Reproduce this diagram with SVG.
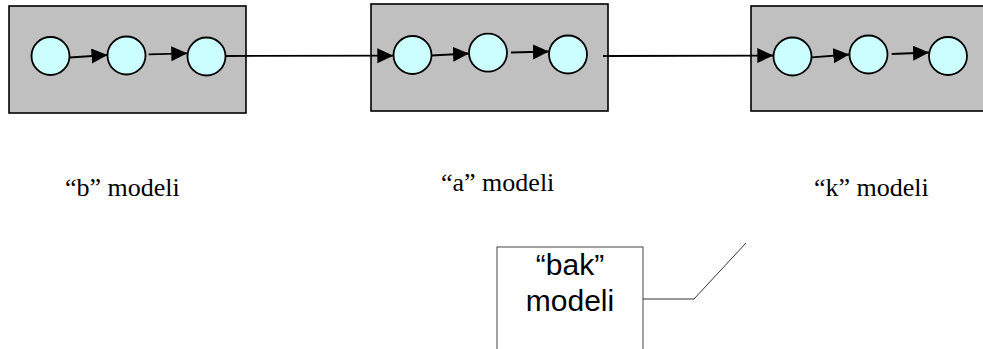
<svg xmlns="http://www.w3.org/2000/svg" width="983" height="349" viewBox="0 0 983 349">
  <style>
    .model { fill: #c0c0c0; stroke: #000; stroke-width: 1.6; }
    .state { fill: #ccffff; stroke: #000; stroke-width: 1.8; }
    .link { fill: none; stroke: #000; stroke-width: 1.8; }
    .caption { font-family: "Liberation Serif", "Times New Roman", serif; font-size: 26px; fill: #000; }
    .callout { fill: #fff; stroke: #444; stroke-width: 1; }
    .callout-text { font-family: "Liberation Sans", Arial, sans-serif; font-size: 30px; fill: #000; text-anchor: middle; }
    .leader { fill: none; stroke: #333; stroke-width: 1; }
  </style>
  <defs>
    <marker id="arrow" markerUnits="userSpaceOnUse" markerWidth="17" markerHeight="16" refX="16" refY="7.5" orient="auto">
      <path d="M0,0 L16,7.5 L0,15 z" fill="#000"/>
    </marker>
  </defs>

  <rect width="983" height="349" fill="#fff"/>

  <!-- model blocks -->
  <g id="model-b">
    <rect class="model" x="9" y="6" width="237" height="107"/>
    <circle class="state" cx="50.5" cy="56" r="19"/>
    <circle class="state" cx="126.5" cy="55.5" r="19"/>
    <circle class="state" cx="206.5" cy="56.5" r="19"/>
  </g>
  <g id="model-a">
    <rect class="model" x="371" y="4" width="237" height="107"/>
    <circle class="state" cx="412.5" cy="55" r="19"/>
    <circle class="state" cx="488" cy="52.7" r="19"/>
    <circle class="state" cx="568" cy="54.5" r="19"/>
  </g>
  <g id="model-k">
    <rect class="model" x="751" y="6" width="240" height="105"/>
    <circle class="state" cx="792.5" cy="56.5" r="19"/>
    <circle class="state" cx="868.5" cy="54.5" r="19"/>
    <circle class="state" cx="948" cy="56" r="19"/>
  </g>

  <!-- captions -->
  <g id="label-b"><text class="caption" x="65" y="196">“b” modeli</text></g>
  <g id="label-a"><text class="caption" x="441" y="191">“a” modeli</text></g>
  <g id="label-k"><text class="caption" x="814" y="196">“k” modeli</text></g>

  <!-- combined model callout -->
  <g id="model-bak">
    <rect class="callout" x="497" y="247" width="146" height="115"/>
    <text class="callout-text" x="570" y="275">“bak”</text>
    <text class="callout-text" x="570" y="310.5">modeli</text>
  </g>

  <!-- connectors -->
  <g id="connectors">
    <line class="link" x1="69.5" y1="57.5" x2="107.5" y2="55" marker-end="url(#arrow)"/>
    <line class="link" x1="148.7" y1="54.3" x2="187.3" y2="53.3" marker-end="url(#arrow)"/>
    <line class="link" x1="225.5" y1="56" x2="393.3" y2="55.7" marker-end="url(#arrow)"/>
    <line class="link" x1="431.5" y1="55.5" x2="469" y2="53.5" marker-end="url(#arrow)"/>
    <line class="link" x1="511" y1="52.5" x2="549" y2="51.5" marker-end="url(#arrow)"/>
    <line class="link" x1="603" y1="56" x2="773.3" y2="55.5" marker-end="url(#arrow)"/>
    <line class="link" x1="811.7" y1="57.3" x2="849.3" y2="54.5" marker-end="url(#arrow)"/>
    <line class="link" x1="891.7" y1="54" x2="929" y2="52.5" marker-end="url(#arrow)"/>
    <polyline class="leader" points="643,299 694,299 746,243"/>
  </g>
</svg>
